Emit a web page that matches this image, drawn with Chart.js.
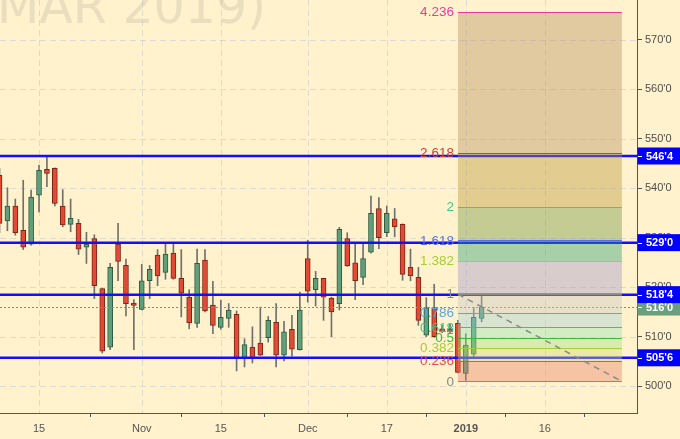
<!DOCTYPE html>
<html>
<head>
<meta charset="utf-8">
<script src="https://cdn.jsdelivr.net/npm/chart.js@4.4.0/dist/chart.umd.min.js"></script>
<style>
  html, body { margin: 0; padding: 0; background: #fff2cc; overflow: hidden; }
  canvas { display: block; }
</style>
</head>
<body>
<canvas id="chart" width="680" height="439"></canvas>
<script>
// daily candles, Oct 8 2018 -> Jan 4 2019 (trading days only)
const dates = [
  '2018-10-08','2018-10-09','2018-10-10','2018-10-11','2018-10-12',
  '2018-10-15','2018-10-16','2018-10-17','2018-10-18','2018-10-19',
  '2018-10-22','2018-10-23','2018-10-24','2018-10-25','2018-10-26',
  '2018-10-29','2018-10-30','2018-10-31','2018-11-01','2018-11-02',
  '2018-11-05','2018-11-06','2018-11-07','2018-11-08','2018-11-09',
  '2018-11-12','2018-11-13','2018-11-14','2018-11-15','2018-11-16',
  '2018-11-19','2018-11-20','2018-11-21','2018-11-23','2018-11-26',
  '2018-11-27','2018-11-28','2018-11-29','2018-11-30','2018-12-03',
  '2018-12-04','2018-12-05','2018-12-06','2018-12-07','2018-12-10',
  '2018-12-11','2018-12-12','2018-12-13','2018-12-14','2018-12-17',
  '2018-12-18','2018-12-19','2018-12-20','2018-12-21','2018-12-24',
  '2018-12-26','2018-12-27','2018-12-28','2018-12-31','2019-01-02',
  '2019-01-03','2019-01-04'
];
const opens = [
  542.6, 533.4, 536.4, 531.5, 528.7, 538.6, 543.8, 544.0, 536.4, 532.7,
  532.9, 528.1, 529.8, 519.7, 507.9, 528.7, 524.4, 516.8, 515.5, 521.3,
  526.5, 523.0, 526.9, 521.8, 518.0, 512.7, 525.5, 516.4, 511.9, 513.7,
  514.5, 505.6, 507.9, 508.7, 509.8, 512.9, 506.3, 511.5, 507.4, 525.8,
  519.5, 521.8, 517.8, 516.7, 529.8, 524.9, 522.0, 527.1, 535.9, 531.0,
  533.8, 532.7, 524.0, 522.0, 510.3, 515.9, 511.6, 511.6, 512.7, 502.6,
  506.5, 513.7
];
const highs = [
  544.0, 540.1, 537.8, 541.6, 539.6, 544.6, 546.5, 544.1, 539.7, 537.8,
  533.7, 531.1, 530.6, 519.8, 524.8, 532.9, 525.7, 517.5, 524.6, 524.4,
  527.6, 529.0, 529.0, 527.6, 519.5, 527.7, 527.6, 521.2, 517.4, 516.7,
  515.2, 509.6, 512.0, 516.0, 514.1, 516.7, 513.1, 514.3, 519.0, 529.5,
  523.2, 521.8, 518.0, 532.1, 531.0, 528.8, 528.8, 538.4, 538.1, 536.4,
  535.9, 532.8, 527.7, 524.0, 517.9, 520.6, 512.3, 512.5, 513.3, 510.6,
  515.9, 518.6
];
const lows = [
  531.0, 531.4, 530.5, 527.6, 528.5, 535.2, 540.3, 536.4, 532.2, 531.2,
  526.6, 524.8, 517.7, 506.7, 507.4, 521.3, 514.2, 507.4, 515.4, 517.7,
  520.3, 521.6, 521.6, 514.0, 511.6, 511.9, 515.0, 510.6, 511.5, 511.9,
  503.1, 503.9, 504.7, 506.2, 508.9, 503.9, 505.1, 506.1, 507.3, 517.0,
  516.2, 513.3, 510.0, 515.4, 524.2, 517.5, 520.5, 526.9, 527.8, 530.2,
  530.2, 521.4, 521.3, 512.3, 510.0, 509.9, 510.8, 510.6, 502.7, 501.2,
  505.9, 513.0
];
const closes = [
  532.9, 536.4, 531.0, 528.1, 538.2, 543.6, 543.0, 536.9, 532.6, 533.9,
  527.7, 528.7, 520.3, 507.1, 524.0, 525.2, 516.7, 516.3, 521.3, 523.6,
  522.3, 526.7, 521.8, 518.8, 512.8, 524.8, 515.2, 512.3, 513.9, 515.4,
  505.7, 508.4, 505.6, 506.3, 513.3, 506.3, 511.0, 507.5, 515.4, 519.2,
  521.8, 518.0, 515.0, 531.7, 524.3, 521.3, 525.8, 534.9, 530.0, 534.9,
  532.2, 522.6, 522.3, 513.3, 515.9, 510.0, 511.0, 511.0, 502.8, 508.3,
  513.9, 516.0
];

// axis ticks (x in trading-day index, future days continue the count)
const xTickIndex = [5, 18, 28, 39, 49, 59, 69];
const xTickText = ['15', 'Nov', '15', 'Dec', '17', '2019', '16'];
const yTicks = [500, 510, 520, 530, 540, 550, 560, 570];

// horizontal support / resistance lines
const levelPrices = [546.5, 529, 518.5, 505.75];
const lastPrice = 516;

// fibonacci drawing
const fibLevels = [0, 0.236, 0.382, 0.5, 0.618, 0.786, 1, 1.382, 1.618, 2, 2.618, 4.236];
const fibLow = 501.0;
const fibHigh = 518.6;
const fibStart = 58;     // Dec 31
const fibEnd = 78.75;

const watermark = 'MAR 2019)';

// styles
const fibLineColors = ['#8a8a8a', '#e25050', '#a5cc3a', '#3cb83c', '#35c48a', '#5aa7e0',
  '#8a8a8a', '#a5cc3a', '#5f6fd8', '#3fc98c', '#c8433a', '#e0409a'];
const fibFillColors = [
  'rgba(230,127,104,0.4)', 'rgba(208,217,114,0.4)', 'rgba(158,227,134,0.4)',
  'rgba(148,227,184,0.4)', 'rgba(158,207,214,0.4)', 'rgba(198,197,194,0.4)',
  'rgba(158,147,204,0.4)', 'rgba(38,157,114,0.4)', 'rgba(108,147,64,0.4)',
  'rgba(183,147,54,0.4)', 'rgba(183,142,94,0.4)'
];

function fmtPrice(v) {
  const whole = Math.floor(v + 1e-9);
  const eighths = Math.round((v - whole) * 8);
  return whole + "'" + eighths;
}

const fibPrice = l => fibLow + l * (fibHigh - fibLow);

const drawings = {
  id: 'drawings',
  beforeDraw(chart) {
    const { ctx, width, height } = chart;
    ctx.save();
    ctx.fillStyle = '#fff2cc';
    ctx.fillRect(0, 0, width, height);
    ctx.font = '49px "DejaVu Sans"';
    ctx.fillStyle = '#e9dfbf';
    ctx.textBaseline = 'alphabetic';
    ctx.textAlign = 'left';
    ctx.fillText(watermark, -3, 23);
    ctx.restore();
  },
  beforeDatasetsDraw(chart) {
    const { ctx, chartArea: a, scales: { x, y } } = chart;
    ctx.save();
    ctx.strokeStyle = 'rgba(185,195,215,0.5)';
    ctx.lineWidth = 1;
    ctx.setLineDash([6, 4]);
    x.ticks.forEach(t => {
      const px = Math.round(x.getPixelForValue(t.value)) + 0.5;
      ctx.beginPath(); ctx.moveTo(px, a.top); ctx.lineTo(px, a.bottom); ctx.stroke();
    });
    y.ticks.forEach(t => {
      const py = Math.round(y.getPixelForValue(t.value)) + 0.5;
      ctx.beginPath(); ctx.moveTo(a.left, py); ctx.lineTo(a.right, py); ctx.stroke();
    });
    ctx.restore();
  },
  afterDatasetsDraw(chart) {
    const { ctx, chartArea: a, scales: { x, y } } = chart;
    ctx.save();

    // last price dotted line
    ctx.strokeStyle = '#5f9e7a';
    ctx.lineWidth = 1;
    ctx.setLineDash([2, 2]);
    let py = Math.round(y.getPixelForValue(lastPrice)) + 0.5;
    ctx.beginPath(); ctx.moveTo(a.left, py); ctx.lineTo(a.right, py); ctx.stroke();

    // blue levels
    ctx.setLineDash([]);
    ctx.strokeStyle = '#1010ff';
    ctx.lineWidth = 2.5;
    levelPrices.forEach(p => {
      const yy = y.getPixelForValue(p);
      ctx.beginPath(); ctx.moveTo(a.left, yy); ctx.lineTo(a.right, yy); ctx.stroke();
    });

    // fib bands
    const x0 = x.getPixelForValue(fibStart);
    const x1 = x.getPixelForValue(fibEnd);
    for (let i = 0; i < fibLevels.length - 1; i++) {
      const yTop = y.getPixelForValue(fibPrice(fibLevels[i + 1]));
      const yBot = y.getPixelForValue(fibPrice(fibLevels[i]));
      ctx.fillStyle = fibFillColors[i];
      ctx.fillRect(x0, yTop, x1 - x0, yBot - yTop);
    }
    ctx.lineWidth = 1;
    fibLevels.forEach((l, i) => {
      const yy = Math.round(y.getPixelForValue(fibPrice(l))) + 0.5;
      ctx.strokeStyle = fibLineColors[i];
      ctx.beginPath(); ctx.moveTo(x0, yy); ctx.lineTo(x1, yy); ctx.stroke();
    });

    // trend line between anchors
    ctx.strokeStyle = '#8a8a8a';
    ctx.lineWidth = 1.5;
    ctx.setLineDash([6, 5]);
    ctx.beginPath();
    ctx.moveTo(x0, y.getPixelForValue(fibHigh));
    ctx.lineTo(x1, y.getPixelForValue(fibLow));
    ctx.stroke();
    ctx.setLineDash([]);

    // level labels
    ctx.font = '13.5px "Liberation Sans"';
    ctx.textAlign = 'right';
    ctx.textBaseline = 'middle';
    fibLevels.forEach((l, i) => {
      ctx.fillStyle = fibLineColors[i];
      ctx.fillText(String(l), x0 - 4, y.getPixelForValue(fibPrice(l)) + 0.5);
    });
    ctx.restore();
  },
  afterDraw(chart) {
    const { ctx, chartArea: a, scales: { y }, width } = chart;
    ctx.save();
    ctx.font = 'bold 11px "Liberation Sans"';
    ctx.textAlign = 'left';
    ctx.textBaseline = 'middle';
    const box = (p, color) => {
      const yy = y.getPixelForValue(p);
      ctx.fillStyle = color;
      ctx.fillRect(a.right + 0.5, yy - 8.5, width - a.right, 17);
      ctx.strokeStyle = '#ffffff';
      ctx.lineWidth = 1;
      ctx.beginPath(); ctx.moveTo(a.right + 1, Math.round(yy) + 0.5); ctx.lineTo(a.right + 5, Math.round(yy) + 0.5); ctx.stroke();
      ctx.fillStyle = '#ffffff';
      ctx.fillText(fmtPrice(p), a.right + 9, yy + 0.5);
    };
    box(lastPrice, '#6a9f7e');
    levelPrices.forEach(p => box(p, '#0000ff'));
    ctx.restore();
  }
};

new Chart(document.getElementById('chart'), {
  type: 'bar',
  data: {
    datasets: [
      {
        // candle bodies
        data: dates.map((d, i) => ({ x: i, y: [opens[i], closes[i]] })),
        backgroundColor: c => closes[c.dataIndex] >= opens[c.dataIndex] ? '#5f9f7c' : '#e24a35',
        borderColor: c => closes[c.dataIndex] >= opens[c.dataIndex] ? '#2e5a40' : '#7d2414',
        borderWidth: 1,
        borderSkipped: false,
        barThickness: 5,
        grouped: false
      },
      {
        // wicks
        data: dates.map((d, i) => ({ x: i, y: [lows[i], highs[i]] })),
        backgroundColor: '#707070',
        borderWidth: 0,
        barThickness: 1,
        grouped: false
      }
    ]
  },
  options: {
    responsive: false,
    animation: false,
    layout: { padding: 0 },
    plugins: { legend: { display: false }, tooltip: { enabled: false } },
    scales: {
      x: {
        type: 'linear',
        min: 0.063,
        max: 80.66,
        offset: false,
        afterBuildTicks: s => { s.ticks = xTickIndex.map(v => ({ value: v })); },
        afterFit: s => { s.height = 26; s.paddingLeft = 0; s.paddingRight = 0; },
        ticks: {
          autoSkip: false,
          maxRotation: 0,
          padding: 5,
          color: '#555555',
          callback: (v, i) => xTickText[i],
          font: c => ({ family: 'Liberation Sans', size: 11, weight: c.index === 5 ? 'bold' : 'normal' })
        },
        grid: { drawOnChartArea: false, tickLength: 4, color: '#555555' },
        border: { color: '#555555' }
      },
      y: {
        position: 'right',
        min: 494.6,
        max: 578,
        afterBuildTicks: s => { s.ticks = yTicks.map(v => ({ value: v })); },
        afterFit: s => { s.width = 43; s.paddingTop = 0; s.paddingBottom = 0; },
        ticks: {
          padding: 3,
          color: '#4d4d4d',
          font: { family: 'Liberation Sans', size: 11 },
          callback: v => fmtPrice(v)
        },
        grid: { drawOnChartArea: false, tickLength: 5, color: '#555555' },
        border: { color: '#555555' }
      }
    }
  },
  plugins: [drawings]
});
</script>
</body>
</html>
